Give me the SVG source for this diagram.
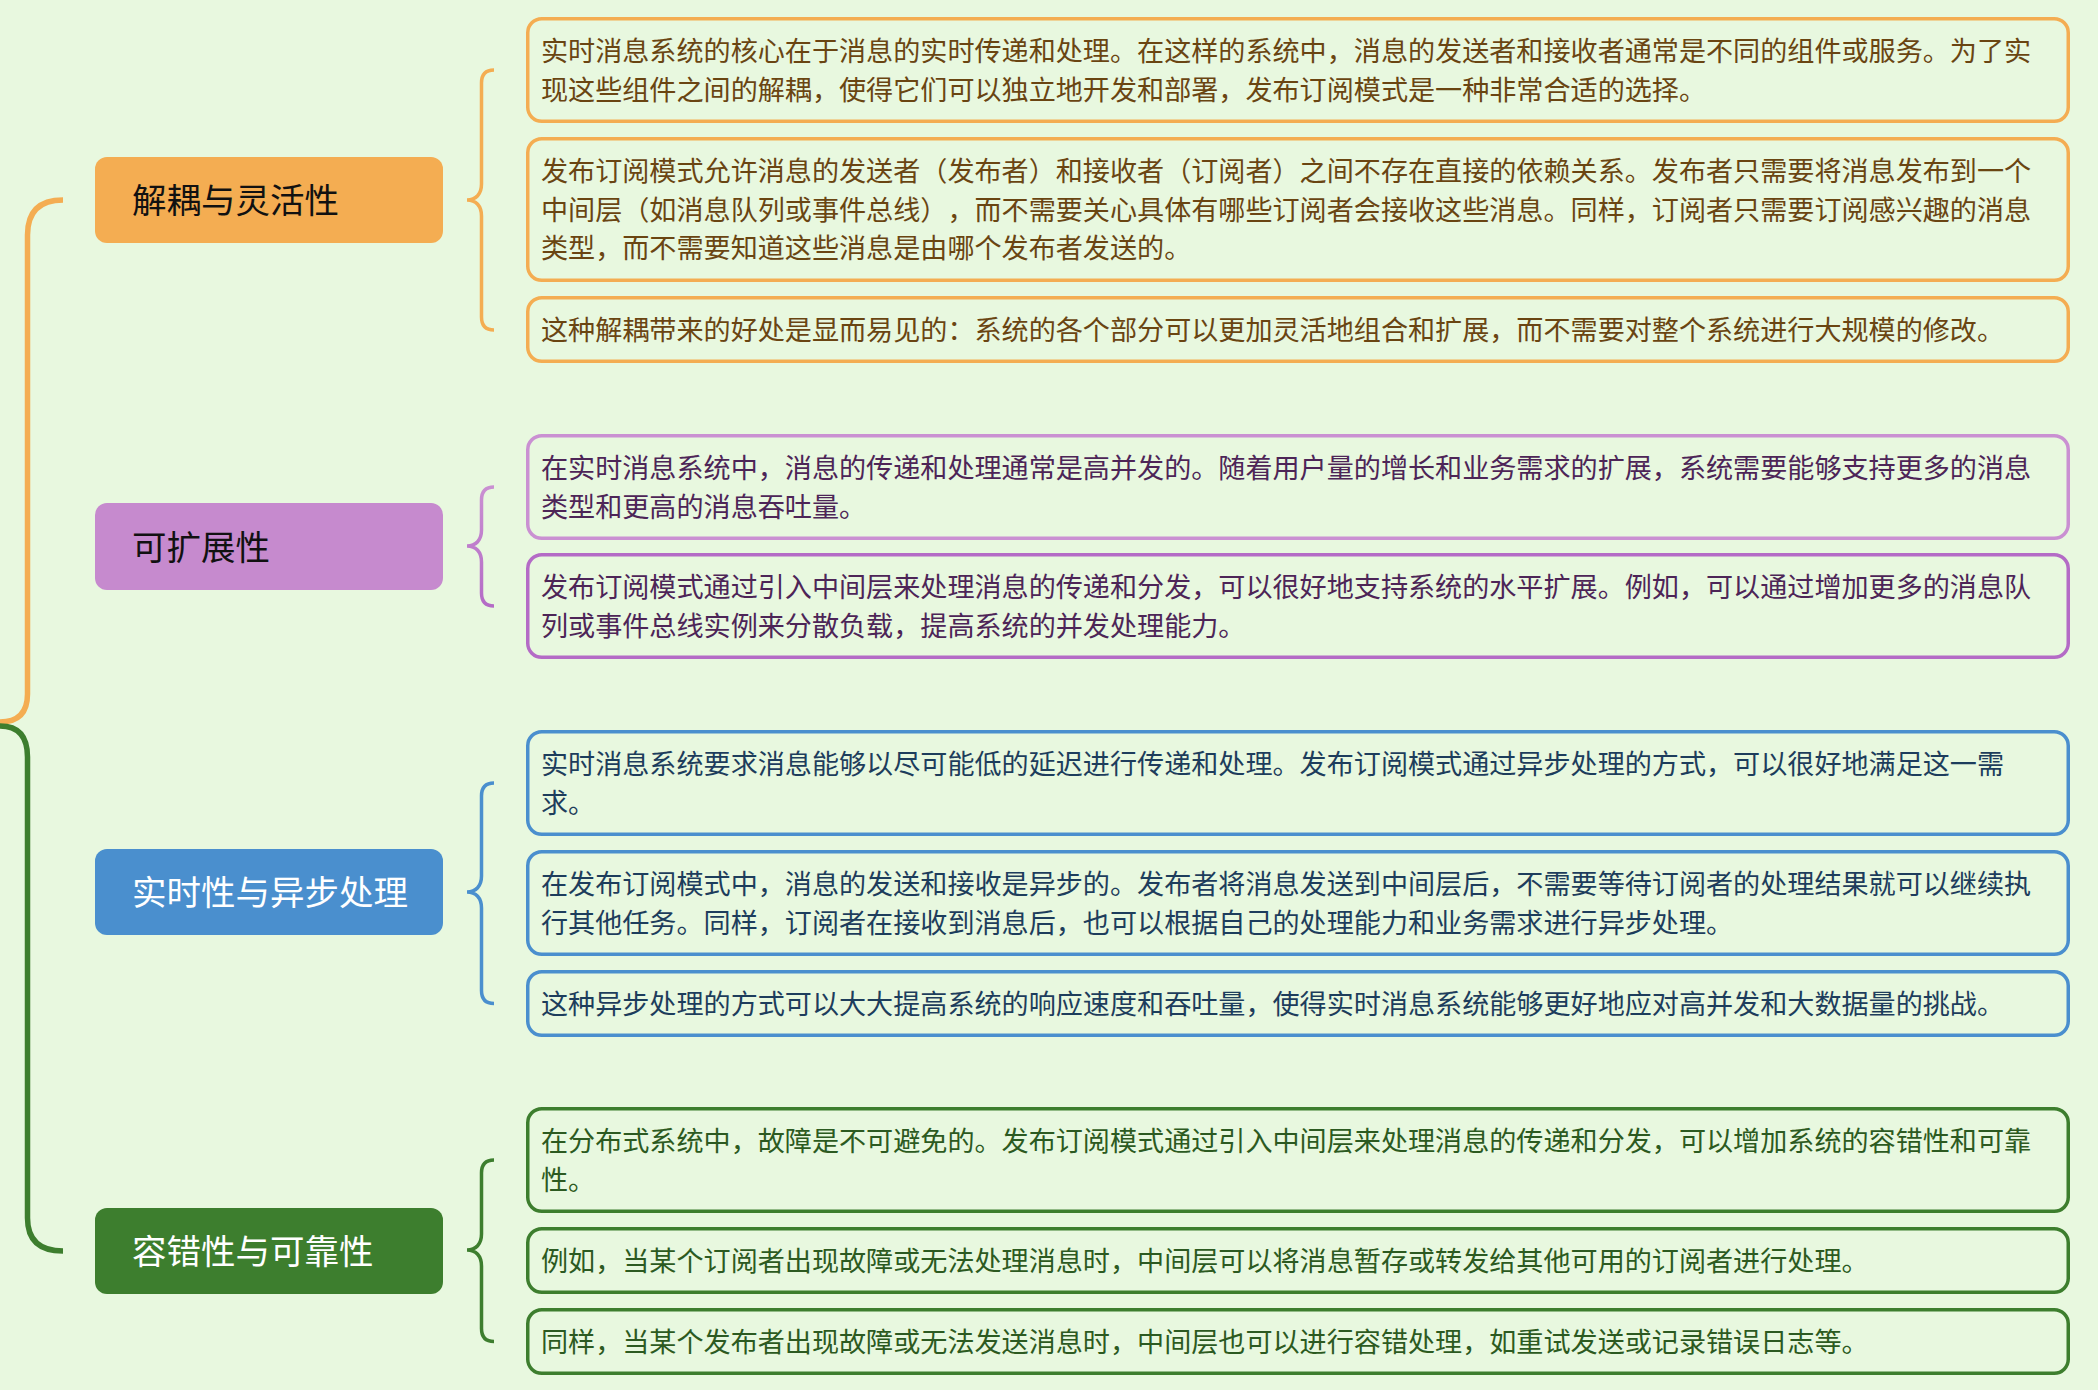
<svg xmlns="http://www.w3.org/2000/svg" width="2098" height="1390" viewBox="0 0 2098 1390">
<defs>
<style>
.bg{fill:#E8F8DF}
text{text-spacing-trim:space-all}
.lbl{font-family:"Noto Sans CJK SC","Noto Sans",sans-serif;font-size:34.5px}
.txt{font-family:"Noto Sans CJK SC","Noto Sans",sans-serif;font-size:27.1px}
.box{fill:#E8F8DF;stroke-width:3.5}
.br{fill:none;stroke-width:3.5;stroke-linecap:butt}
.main{fill:none;stroke-width:5.5}
.o{stroke:#F4AD52}
.b{stroke:#4A8FCE}
.g{stroke:#3D7E2E}
.to{fill:#6A4512}
.tp{fill:#4D2557}
.tb{fill:#1D3D5C}
.tg{fill:#2C5A21}
</style>
<linearGradient id="pg" gradientUnits="userSpaceOnUse" x1="0" y1="487" x2="0" y2="606">
<stop offset="0" stop-color="#CA90D2"/>
<stop offset="1" stop-color="#B46BC6"/>
</linearGradient>
</defs>
<rect class="bg" x="0" y="0" width="2098" height="1390"/>

<g id="connectors">
<path class="main o" d="M63,200 Q27.5,200 27.5,235 L27.5,694 Q27.5,722 0,722"/>
<path class="main g" d="M0,726 Q27.5,726 27.5,757 L27.5,1218 Q27.5,1251 63,1251"/>
<path class="br o" d="M494,70 Q481.5,70 481.5,83 L481.5,184 C481.5,194 476,200 467,200 C476,200 481.5,206 481.5,216 L481.5,317 Q481.5,330 494,330"/>
<path class="br" stroke="url(#pg)" d="M494,487 Q481.5,487 481.5,500 L481.5,530 C481.5,540 476,546 467,546 C476,546 481.5,552 481.5,562 L481.5,593 Q481.5,606 494,606"/>
<path class="br b" d="M494,783 Q481.5,783 481.5,796 L481.5,876 C481.5,886 476,892 467,892 C476,892 481.5,898 481.5,908 L481.5,990.5 Q481.5,1003.5 494,1003.5"/>
<path class="br g" d="M494,1160 Q481.5,1160 481.5,1173 L481.5,1234 C481.5,1244 476,1250 467,1250 C476,1250 481.5,1256 481.5,1266 L481.5,1328.5 Q481.5,1341.5 494,1341.5"/>
</g>

<g id="node-decoupling">
<rect x="95" y="157" width="348" height="86" rx="12" fill="#F4AD52"/>
<text class="lbl" x="132" y="213" fill="#111111">解耦与灵活性</text>
</g>
<g id="node-scalability">
<rect x="95" y="503" width="348" height="87" rx="12" fill="#C68ACE"/>
<text class="lbl" x="132" y="559.5" fill="#111111">可扩展性</text>
</g>
<g id="node-realtime">
<rect x="95" y="849" width="348" height="86" rx="12" fill="#4A8FCE"/>
<text class="lbl" x="132" y="905" fill="#FFFFFF">实时性与异步处理</text>
</g>
<g id="node-reliability">
<rect x="95" y="1208" width="348" height="86" rx="12" fill="#3D7E2E"/>
<text class="lbl" x="132" y="1264" fill="#FFFFFF">容错性与可靠性</text>
</g>

<g id="box-o1">
<rect class="box o" x="527.75" y="18.75" width="1540.5" height="102.5" rx="14"/>
<text class="txt to" x="541"><tspan x="541" y="61">实时消息系统的核心在于消息的实时传递和处理。在这样的系统中，消息的发送者和接收者通常是不同的组件或服务。为了实</tspan><tspan x="541" y="99.7">现这些组件之间的解耦，使得它们可以独立地开发和部署，发布订阅模式是一种非常合适的选择。</tspan></text>
</g>
<g id="box-o2">
<rect class="box o" x="527.75" y="138.75" width="1540.5" height="141.5" rx="14"/>
<text class="txt to" x="541"><tspan x="541" y="181">发布订阅模式允许消息的发送者（发布者）和接收者（订阅者）之间不存在直接的依赖关系。发布者只需要将消息发布到一个</tspan><tspan x="541" y="219.7">中间层（如消息队列或事件总线），而不需要关心具体有哪些订阅者会接收这些消息。同样，订阅者只需要订阅感兴趣的消息</tspan><tspan x="541" y="258.4">类型，而不需要知道这些消息是由哪个发布者发送的。</tspan></text>
</g>
<g id="box-o3">
<rect class="box o" x="527.75" y="297.75" width="1540.5" height="63.5" rx="14"/>
<text class="txt to" x="541" y="340">这种解耦带来的好处是显而易见的：系统的各个部分可以更加灵活地组合和扩展，而不需要对整个系统进行大规模的修改。</text>
</g>

<g id="box-p1">
<rect class="box" stroke="#CA90D2" x="527.75" y="435.75" width="1540.5" height="102.5" rx="14"/>
<text class="txt tp" x="541"><tspan x="541" y="478">在实时消息系统中，消息的传递和处理通常是高并发的。随着用户量的增长和业务需求的扩展，系统需要能够支持更多的消息</tspan><tspan x="541" y="516.7">类型和更高的消息吞吐量。</tspan></text>
</g>
<g id="box-p2">
<rect class="box" stroke="#B46BC6" x="527.75" y="554.75" width="1540.5" height="102.5" rx="14"/>
<text class="txt tp" x="541"><tspan x="541" y="597">发布订阅模式通过引入中间层来处理消息的传递和分发，可以很好地支持系统的水平扩展。例如，可以通过增加更多的消息队</tspan><tspan x="541" y="635.7">列或事件总线实例来分散负载，提高系统的并发处理能力。</tspan></text>
</g>

<g id="box-b1">
<rect class="box b" x="527.75" y="731.75" width="1540.5" height="102.5" rx="14"/>
<text class="txt tb" x="541"><tspan x="541" y="774">实时消息系统要求消息能够以尽可能低的延迟进行传递和处理。发布订阅模式通过异步处理的方式，可以很好地满足这一需</tspan><tspan x="541" y="812.7">求。</tspan></text>
</g>
<g id="box-b2">
<rect class="box b" x="527.75" y="851.75" width="1540.5" height="102.5" rx="14"/>
<text class="txt tb" x="541"><tspan x="541" y="894">在发布订阅模式中，消息的发送和接收是异步的。发布者将消息发送到中间层后，不需要等待订阅者的处理结果就可以继续执</tspan><tspan x="541" y="932.7">行其他任务。同样，订阅者在接收到消息后，也可以根据自己的处理能力和业务需求进行异步处理。</tspan></text>
</g>
<g id="box-b3">
<rect class="box b" x="527.75" y="971.75" width="1540.5" height="63.5" rx="14"/>
<text class="txt tb" x="541" y="1014">这种异步处理的方式可以大大提高系统的响应速度和吞吐量，使得实时消息系统能够更好地应对高并发和大数据量的挑战。</text>
</g>

<g id="box-g1">
<rect class="box g" x="527.75" y="1108.75" width="1540.5" height="102.5" rx="14"/>
<text class="txt tg" x="541"><tspan x="541" y="1151">在分布式系统中，故障是不可避免的。发布订阅模式通过引入中间层来处理消息的传递和分发，可以增加系统的容错性和可靠</tspan><tspan x="541" y="1189.7">性。</tspan></text>
</g>
<g id="box-g2">
<rect class="box g" x="527.75" y="1228.75" width="1540.5" height="63.5" rx="14"/>
<text class="txt tg" x="541" y="1271">例如，当某个订阅者出现故障或无法处理消息时，中间层可以将消息暂存或转发给其他可用的订阅者进行处理。</text>
</g>
<g id="box-g3">
<rect class="box g" x="527.75" y="1309.75" width="1540.5" height="63.5" rx="14"/>
<text class="txt tg" x="541" y="1352">同样，当某个发布者出现故障或无法发送消息时，中间层也可以进行容错处理，如重试发送或记录错误日志等。</text>
</g>
</svg>
